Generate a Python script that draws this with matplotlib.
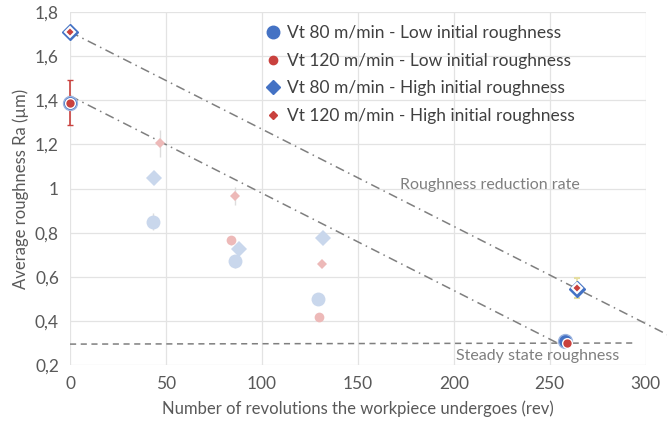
import numpy as np
import matplotlib.pyplot as plt
from matplotlib.lines import Line2D

plt.rcParams['font.family'] = ['Lato', 'DejaVu Sans']

# 各シリーズのデータ (回転数, 平均粗さ Ra, 誤差)
x_v80_low = [0, 43, 86, 129, 258]
y_v80_low = [1.39, 0.85, 0.67, 0.50, 0.31]
e_v80_low = [0.03, 0.04, 0.03, 0.0, 0.0]

x_v120_low = [0, 84, 129.5, 259]
y_v120_low = [1.39, 0.766, 0.42, 0.30]
e_v120_low = [0.10, 0.02, 0.0, 0.0]

x_v80_high = [0, 44, 88, 132, 264]
y_v80_high = [1.71, 1.05, 0.725, 0.775, 0.545]
e_v80_high = [0.0, 0.03, 0.02, 0.0, 0.0]

x_v120_high = [0, 47, 86, 131.5, 264]
y_v120_high = [1.71, 1.205, 0.965, 0.658, 0.55]
e_v120_high = [0.0, 0.06, 0.04, 0.0, 0.045]

# 補助線
steady_x = [0, 295]
steady_y = [0.295, 0.30]
rate_hi_x = [0, 312]
rate_hi_y = [1.71, 0.335]
rate_lo_x = [0, 254]
rate_lo_y = [1.42, 0.30]

labels = ['Vt 80 m/min - Low initial roughness',
          'Vt 120 m/min - Low initial roughness',
          'Vt 80 m/min - High initial roughness',
          'Vt 120 m/min - High initial roughness']

blue = '#4472C4'
red = '#C9413E'
blue_fade = '#C9D7EC'
red_fade = '#EDB9B8'

fig = plt.figure(figsize=(6.67, 4.30), dpi=100)
ax = fig.add_axes([0.105, 0.151, 0.863, 0.821])

ax.set_xlim(0, 300)
ax.set_ylim(0.2, 1.8)
ax.set_xticks(np.arange(0, 301, 50))
ax.set_yticks(np.arange(0.2, 1.81, 0.2))
ax.set_yticklabels([f'{v:g}'.replace('.', ',') for v in np.arange(0.2, 1.81, 0.2)])
ax.grid(True, color='#E3E3E3', linewidth=0.9)
ax.set_axisbelow(True)
for s in ax.spines.values():
    s.set_visible(False)
ax.tick_params(length=0, labelsize=12.5, colors='#595959', pad=8)

# 補助線の描画
ax.plot(steady_x, steady_y, ls=(0, (4, 3)), color='#7F7F7F', lw=1.1, zorder=2)
ax.plot(rate_hi_x, rate_hi_y, ls=(0, (6, 3, 1, 3)), color='#7F7F7F', lw=1.1,
        clip_on=False, zorder=2)
ax.plot(rate_lo_x, rate_lo_y, ls=(0, (6, 3, 1, 3)), color='#7F7F7F', lw=1.1, zorder=2)
ax.text(172, 1.015, 'Roughness reduction rate', color='#7F7F7F', fontsize=11.5,
        va='center')
ax.text(201, 0.24, 'Steady state roughness', color='#7F7F7F', fontsize=11.5,
        va='center')

series = [
    (x_v80_low, y_v80_low, e_v80_low, 'o', 10, blue, blue_fade, '#9DB5E0', 1.0, '#DDDDDD'),
    (x_v120_low, y_v120_low, e_v120_low, 'o', 7, red, red_fade, 'white', 1.0, red),
    (x_v80_high, y_v80_high, e_v80_high, 'D', 8.5, blue, blue_fade, blue, 1.0, '#DDDDDD'),
    (x_v120_high, y_v120_high, e_v120_high, 'D', 5, red, red_fade, 'white', 1.5, '#E4DDA0'),
]

for x, y, e, m, ms, c, cf, ec, mew, errc in series:
    x = np.array(x)
    y = np.array(y)
    e = np.array(e)
    # 中間点は薄い色
    ax.errorbar(x[1:-1], y[1:-1], yerr=e[1:-1], fmt=m, ms=ms, color=cf,
                ecolor='#DDDDDD', elinewidth=1, capsize=2, mew=0, zorder=3)
    # 始点と終点は濃い色
    ax.errorbar(x[[0, -1]], y[[0, -1]], yerr=e[[0, -1]], fmt=m, ms=ms, color=c,
                ecolor=errc, elinewidth=1.2, capsize=2,
                mec=ec, mew=mew, zorder=4, clip_on=False)

handles = [
    Line2D([], [], marker='o', ls='', ms=9, color=blue),
    Line2D([], [], marker='o', ls='', ms=6, color=red),
    Line2D([], [], marker='D', ls='', ms=7, color=blue),
    Line2D([], [], marker='D', ls='', ms=4, color=red),
]
ax.legend(handles, labels, loc='upper left', bbox_to_anchor=(0.31, 1.008),
          frameon=False, fontsize=12.5, handletextpad=0.3, handlelength=1.0,
          labelspacing=0.68, labelcolor='#404040')

ax.set_xlabel('Number of revolutions the workpiece undergoes (rev)', fontsize=12,
              color='#595959', labelpad=6)
ax.set_ylabel('Average roughness Ra (µm)', fontsize=12, color='#595959', labelpad=4)

fig.savefig('out.png', dpi=100)
